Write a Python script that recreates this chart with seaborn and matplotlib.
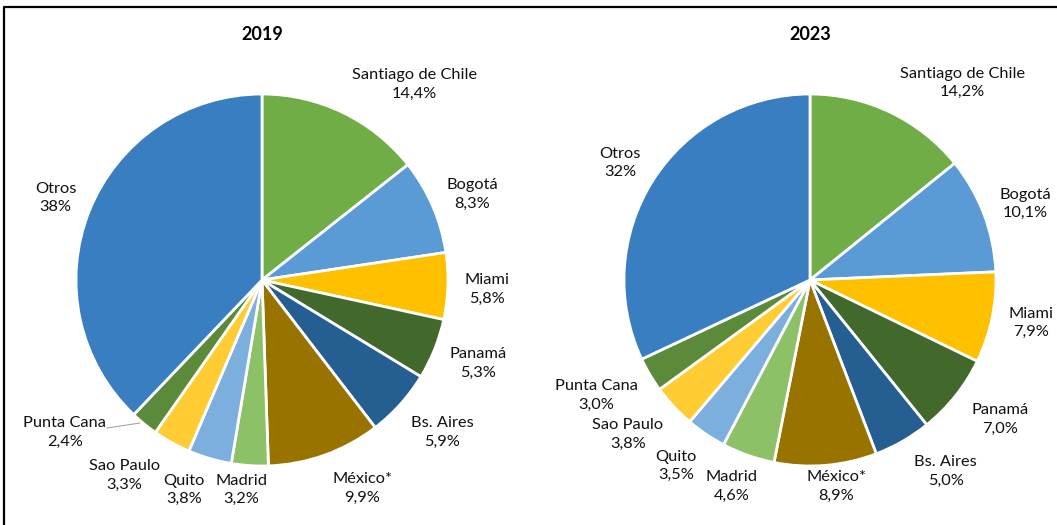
import numpy as np
import seaborn as sns
import matplotlib.pyplot as plt

# datos
ciudades = ['Santiago de Chile', 'Bogotá', 'Miami', 'Panamá', 'Bs. Aires', 'México*',
            'Madrid', 'Quito', 'Sao Paulo', 'Punta Cana', 'Otros']
valores_2019 = [14.4, 8.3, 5.8, 5.3, 5.9, 9.9, 3.2, 3.8, 3.3, 2.4, 38]
valores_2023 = [14.2, 10.1, 7.9, 7.0, 5.0, 8.9, 4.6, 3.5, 3.8, 3.0, 32]
etiquetas_2019 = ['14,4%', '8,3%', '5,8%', '5,3%', '5,9%', '9,9%', '3,2%', '3,8%', '3,3%', '2,4%', '38%']
etiquetas_2023 = ['14,2%', '10,1%', '7,9%', '7,0%', '5,0%', '8,9%', '4,6%', '3,5%', '3,8%', '3,0%', '32%']

colores = ['#70AD47', '#5B9BD5', '#FFC000', '#43682B', '#255E91', '#997300',
           '#8CC168', '#7CAFDD', '#FFCD33', '#5A8A3A', '#3A7EC2']

# posiciones de etiquetas (en unidades de radio, relativo al centro)
pos_2019 = [(0.82, 1.05), (1.13, 0.46), (1.21, -0.05), (1.16, -0.45), (0.97, -0.82),
            (0.54, -1.12), (-0.11, -1.13), (-0.42, -1.13), (-0.74, -1.05), (-1.06, -0.82),
            (-1.11, 0.44)]
pos_2023 = [(0.82, 1.06), (1.16, 0.41), (1.19, -0.23), (1.02, -0.75), (0.73, -1.03),
            (0.14, -1.11), (-0.42, -1.11), (-0.72, -1.00), (-0.98, -0.83), (-1.15, -0.62),
            (-1.02, 0.63)]

sns.set_theme(style='white')
plt.rcParams['font.family'] = ['Lato', 'DejaVu Sans']

W, H = 1057, 525
fig = plt.figure(figsize=(W / 100, H / 100), dpi=100)
ax = fig.add_axes([0, 0, 1, 1])

# marco
ax.plot([4, 4, W], [-5, H - 7, H - 7], color='black', lw=1.6, solid_capstyle='butt')

R = 186
for anio, vals, etqs, pos, cx in [('2019', valores_2019, etiquetas_2019, pos_2019, 262),
                                  ('2023', valores_2023, etiquetas_2023, pos_2023, 810)]:
    cy = H - 280
    ax.pie(vals, colors=colores, startangle=90, counterclock=False, radius=R,
           center=(cx, cy), frame=True,
           wedgeprops=dict(edgecolor='white', linewidth=2))
    for ciudad, et, (ux, uy) in zip(ciudades, etqs, pos):
        ax.text(cx + ux * R, cy + uy * R, f'{ciudad}\n{et}', ha='center', va='center',
                fontsize=11.8, linespacing=1.4, color='#111111')
    ax.text(cx, H - 35, anio, ha='center', va='center', fontsize=13, fontweight='bold',
            color='black')

# linea guia Punta Cana 2019
ax.plot([107, 140], [H - 428, H - 423], color='#A6A6A6', lw=0.8)

ax.set_xlim(0, W)
ax.set_ylim(0, H)
ax.set_aspect('equal')
ax.axis('off')

fig.savefig('out.png', dpi=100)
